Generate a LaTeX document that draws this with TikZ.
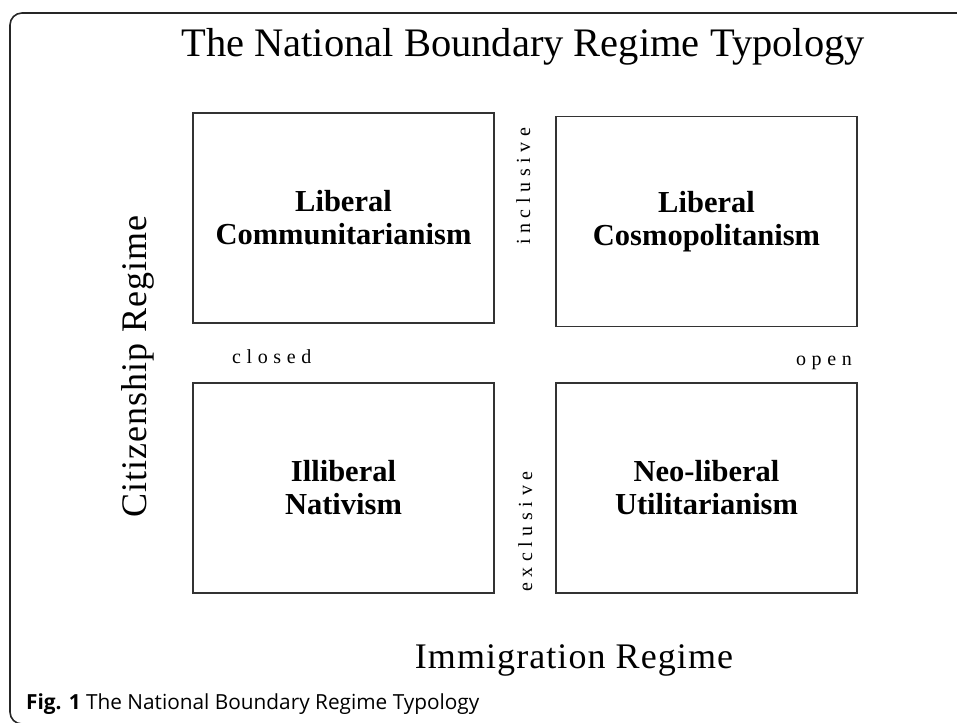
\documentclass[tikz,border=0pt]{standalone}
\usepackage{fontspec}
\setmainfont{Liberation Serif}
\newfontfamily\spacedfont[LetterSpace=28]{Liberation Serif}
\newfontfamily\axisfont[LetterSpace=3]{Liberation Serif}
\newfontfamily\capfont{Open Sans}
\begin{document}
\begin{tikzpicture}[x=1pt,y=-1pt,
    regime/.style={draw=black!80,line width=1.4pt,minimum width=301pt,minimum height=210pt,
      align=center,font=\fontsize{30.5}{33}\selectfont\bfseries},
    pole/.style={inner sep=0pt,font=\fontsize{20}{20}\spacedfont},
    axis/.style={inner sep=0pt,font=\fontsize{36}{36}\axisfont}]
  \useasboundingbox (0,0) rectangle (957,722);
  \draw[line width=1.6pt,black!85,rounded corners=12pt] (960,13) -- (10,13) -- (10,724) -- (40,724);
  \node[anchor=base,inner sep=0pt,font=\fontsize{40.5}{40}\selectfont] (title) at (523,57)
    {The National Boundary Regime Typology};
  \node[regime] (comm) at (343.5,218) {Liberal\\Communitarianism};
  \node[regime] (cosmo) at (706.5,221.5) {Liberal\\Cosmopolitanism};
  \node[regime] (nativ) at (343.5,488) {Illiberal\\Nativism};
  \node[regime] (util) at (706.5,488) {Neo-liberal\\Utilitarianism};
  \node[pole,rotate=90,anchor=base west] (incl) at (530,245) {inclusive};
  \node[pole,rotate=90,anchor=base west] (excl) at (532,592) {exclusive};
  \node[pole,anchor=base west] (closed) at (232,363) {closed};
  \node[pole,anchor=base east] (open) at (852,365) {open};
  \node[axis,rotate=90,anchor=base west] (citiz) at (146,518) {Citizenship Regime};
  \node[axis,anchor=base] (immig) at (574,668) {Immigration Regime};
  \node[anchor=base west,inner sep=0pt,font=\fontsize{20.8}{20}\capfont] (caption) at (26,709)
    {\textbf{Fig. 1} The National Boundary Regime Typology};
\end{tikzpicture}
\end{document}
